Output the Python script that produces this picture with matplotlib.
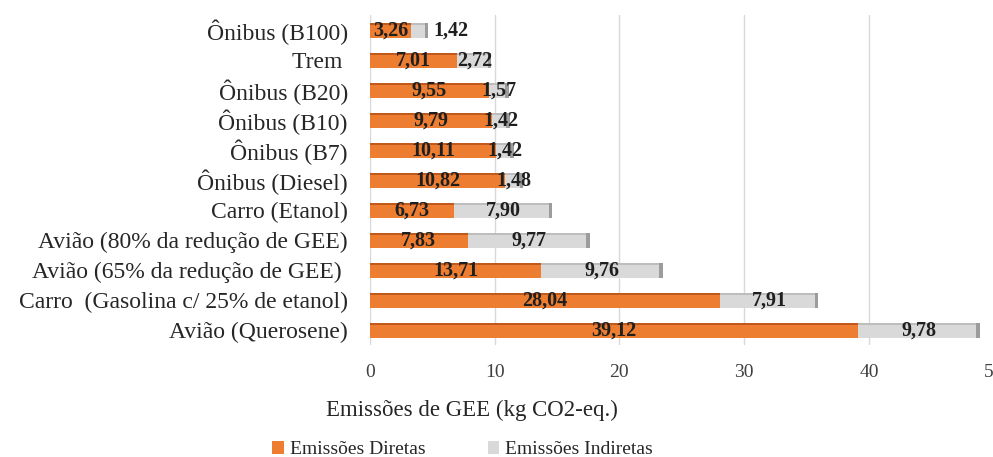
import matplotlib
matplotlib.use("Agg")
import matplotlib.pyplot as plt
import numpy as np

# data (top to bottom as shown)
categories = [
    "Ônibus (B100)",
    "Trem ",
    "Ônibus (B20)",
    "Ônibus (B10)",
    "Ônibus (B7)",
    "Ônibus (Diesel)",
    "Carro (Etanol)",
    "Avião (80% da redução de GEE)",
    "Avião (65% da redução de GEE) ",
    "Carro  (Gasolina c/ 25% de etanol)",
    "Avião (Querosene)",
]
diretas = [3.26, 7.01, 9.55, 9.79, 10.11, 10.82, 6.73, 7.83, 13.71, 28.04, 39.12]
indiretas = [1.42, 2.72, 1.57, 1.42, 1.42, 1.48, 7.90, 9.77, 9.76, 7.91, 9.78]
xticks = [0, 10, 20, 30, 40, 50]

ORANGE = "#ED7D31"
ORANGE_DARK = "#C0591A"
GRAY = "#D9D9D9"
GRAY_DARK = "#9C9C9C"
SERIF = ["Liberation Serif", "DejaVu Serif"]

plt.rcParams["font.family"] = SERIF

fig = plt.figure(figsize=(9.93, 4.57), dpi=100)
ax = fig.add_axes([0.3726, 0.245, 0.628, 0.722])

y = np.arange(len(categories))
d = np.array(diretas)
ind = np.array(indiretas)
tot = d + ind
h = 0.5

for xv in xticks:
    ax.axvline(xv, color="#D9D9D9", lw=1, zorder=0)

ax.barh(y, d, height=h, color=ORANGE, zorder=2, label="Emissões Diretas")
ax.barh(y, ind, left=d, height=h, color=GRAY, zorder=2, label="Emissões Indiretas")
# fake 3d: darker top edge and end cap
ax.barh(y - h / 2 + 0.04, d, height=0.08, color=ORANGE_DARK, zorder=3)
ax.barh(y - h / 2 + 0.04, ind, left=d, height=0.08, color="#BDBDBD", zorder=3)
ax.barh(y, 0.3, left=tot - 0.3, height=h, color=GRAY_DARK, zorder=3)

lab_kw = dict(va="center", fontsize=14.5, fontweight="bold", color="#1f1f1f", zorder=4)
for yi, dv, iv, tv in zip(y, d, ind, tot):
    ax.text(dv / 2, yi + 0.03, f"{dv:.2f}".replace(".", ","), ha="center", **lab_kw)
    if tv < 5:
        # short bar: indirect label sits past the end
        ax.text(tv + 0.4, yi + 0.03, f"{iv:.2f}".replace(".", ","), ha="left", **lab_kw)
    else:
        ax.text(dv + iv / 2, yi + 0.03, f"{iv:.2f}".replace(".", ","), ha="center", **lab_kw)

ax.set_xlim(0, 50)
ax.set_ylim(-0.5, len(categories) - 0.5)
ax.invert_yaxis()
ax.set_yticks(y)
ax.set_yticklabels(categories, fontsize=17, color="#262626")
ax.set_xticks(xticks)
ax.set_xticklabels([str(v) for v in xticks], fontsize=14, color="#404040")
ax.tick_params(axis="both", length=0)
ax.tick_params(axis="x", pad=14)
ax.tick_params(axis="y", pad=16)
for s in ax.spines.values():
    s.set_visible(False)

fig.text(472 / 993, 0.103, "Emissões de GEE (kg CO2-eq.)", ha="center", va="center",
         fontsize=16.5, color="#262626")

handles, labels = ax.get_legend_handles_labels()
fig.legend(handles, labels, loc="center", bbox_to_anchor=(0.466, 0.016), ncol=2,
           frameon=False, fontsize=14, handlelength=0.6, handleheight=0.6,
           handletextpad=0.3, columnspacing=3.2, labelcolor="#262626")

fig.savefig("out.png", dpi=100)
